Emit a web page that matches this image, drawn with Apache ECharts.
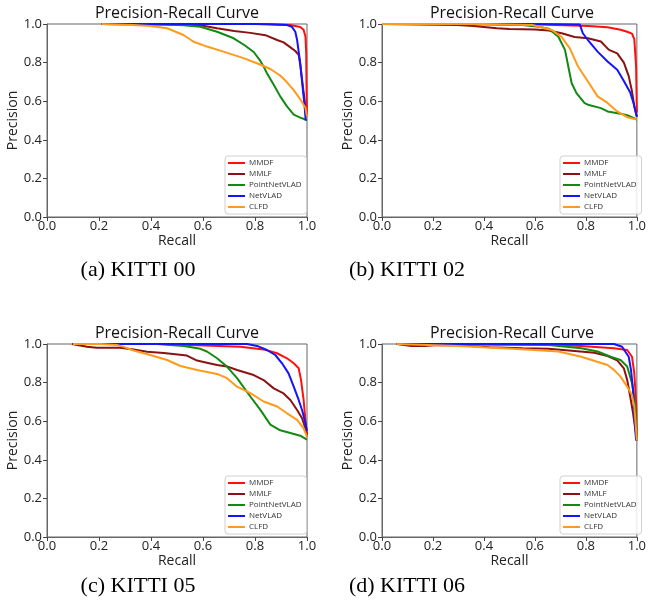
<!DOCTYPE html>
<html>
<head>
<meta charset="utf-8">
<script src="https://cdn.jsdelivr.net/npm/echarts@6/dist/echarts.min.js"></script>
<style>html,body{margin:0;padding:0;background:#fff}#c{width:649px;height:603px}</style>
</head>
<body>
<div id="c"></div>
<script>
// ---- data ----
var methods = ['MMDF', 'MMLF', 'PointNetVLAD', 'NetVLAD', 'CLFD'];
var captions = ['(a) KITTI 00', '(b) KITTI 02', '(c) KITTI 05', '(d) KITTI 06'];
var xTicks = [0, 0.2, 0.4, 0.6, 0.8, 1.0];
var yTicks = [0, 0.2, 0.4, 0.6, 0.8, 1.0];

// KITTI 00  [recall, precision]
var k00_MMDF = [[0.21,1],[0.6,1],[0.85,1],[0.936,0.995],[0.974,0.985],[0.987,0.97],[0.994,0.935],[0.997,0.85],[0.998,0.7],[1.0,0.52]];
var k00_MMLF = [[0.21,1],[0.45,0.998],[0.59,0.993],[0.654,0.978],[0.72,0.964],[0.782,0.954],[0.84,0.942],[0.885,0.917],[0.91,0.905],[0.935,0.88],[0.955,0.86],[0.968,0.84],[0.974,0.79],[0.983,0.69],[0.991,0.6],[0.996,0.52]];
var k00_PointNetVLAD = [[0.21,1],[0.45,0.998],[0.525,0.993],[0.59,0.986],[0.654,0.96],[0.718,0.926],[0.76,0.89],[0.795,0.855],[0.82,0.81],[0.835,0.775],[0.846,0.745],[0.872,0.685],[0.897,0.625],[0.923,0.573],[0.949,0.53],[0.974,0.515],[0.994,0.505],[1.0,0.5]];
var k00_NetVLAD = [[0.21,1],[0.8,1],[0.923,0.995],[0.942,0.985],[0.955,0.96],[0.962,0.917],[0.974,0.797],[0.983,0.676],[0.991,0.573],[0.995,0.5]];
var k00_CLFD = [[0.21,1],[0.333,0.995],[0.397,0.99],[0.462,0.978],[0.525,0.943],[0.564,0.908],[0.615,0.883],[0.679,0.857],[0.756,0.823],[0.82,0.79],[0.859,0.767],[0.897,0.733],[0.923,0.698],[0.949,0.657],[0.974,0.61],[0.994,0.566],[1.0,0.52]];

// KITTI 02
var k02_MMDF = [[0,1],[0.55,1],[0.68,0.995],[0.81,0.99],[0.885,0.983],[0.936,0.97],[0.962,0.96],[0.981,0.95],[0.99,0.92],[0.997,0.78],[1.0,0.54]];
var k02_MMLF = [[0,1],[0.295,0.995],[0.36,0.99],[0.45,0.978],[0.5,0.974],[0.6,0.972],[0.654,0.966],[0.705,0.952],[0.756,0.933],[0.808,0.926],[0.859,0.909],[0.88,0.88],[0.891,0.866],[0.923,0.848],[0.949,0.8],[0.968,0.73],[0.981,0.65],[0.99,0.573],[1.0,0.52]];
var k02_PointNetVLAD = [[0,1],[0.3,1],[0.551,0.995],[0.615,0.986],[0.654,0.976],[0.692,0.934],[0.718,0.866],[0.731,0.78],[0.744,0.694],[0.763,0.642],[0.795,0.59],[0.808,0.582],[0.859,0.564],[0.885,0.547],[0.936,0.535],[0.962,0.527],[1.0,0.505]];
var k02_NetVLAD = [[0,1],[0.6,1],[0.776,0.998],[0.788,0.952],[0.808,0.917],[0.846,0.857],[0.885,0.806],[0.923,0.763],[0.949,0.705],[0.974,0.645],[0.987,0.59],[1.0,0.52]];
var k02_CLFD = [[0,1],[0.4,1],[0.59,0.995],[0.667,0.969],[0.705,0.932],[0.737,0.874],[0.769,0.78],[0.808,0.702],[0.846,0.625],[0.885,0.591],[0.923,0.547],[0.962,0.517],[1.0,0.505]];

// KITTI 05
var k05_MMDF = [[0.1,1],[0.45,1],[0.551,0.995],[0.744,0.986],[0.833,0.972],[0.885,0.952],[0.923,0.926],[0.949,0.9],[0.968,0.874],[0.977,0.814],[0.987,0.71],[0.994,0.607],[1.0,0.52]];
var k05_MMLF = [[0.096,1],[0.154,0.986],[0.192,0.981],[0.282,0.981],[0.333,0.972],[0.385,0.96],[0.449,0.953],[0.538,0.94],[0.577,0.914],[0.615,0.903],[0.654,0.891],[0.692,0.884],[0.731,0.865],[0.795,0.839],[0.833,0.813],[0.872,0.77],[0.91,0.744],[0.936,0.71],[0.962,0.658],[0.981,0.615],[0.994,0.563],[1.0,0.53]];
var k05_PointNetVLAD = [[0.1,1],[0.423,1],[0.526,0.99],[0.59,0.975],[0.615,0.961],[0.654,0.926],[0.692,0.883],[0.731,0.823],[0.782,0.728],[0.82,0.66],[0.859,0.582],[0.897,0.553],[0.936,0.539],[0.974,0.525],[1.0,0.505]];
var k05_NetVLAD = [[0.1,1],[0.769,1],[0.808,0.99],[0.846,0.969],[0.878,0.943],[0.904,0.9],[0.929,0.848],[0.949,0.779],[0.968,0.71],[0.981,0.658],[0.994,0.59],[1.0,0.55]];
var k05_CLFD = [[0.1,1],[0.205,1],[0.269,0.995],[0.295,0.985],[0.333,0.966],[0.397,0.943],[0.462,0.917],[0.513,0.886],[0.577,0.865],[0.654,0.845],[0.692,0.823],[0.731,0.779],[0.782,0.745],[0.833,0.702],[0.885,0.676],[0.923,0.641],[0.962,0.607],[0.987,0.563],[1.0,0.52]];

// KITTI 06
var k06_MMDF = [[0.058,1],[0.654,0.998],[0.782,0.99],[0.91,0.978],[0.962,0.969],[0.981,0.934],[0.99,0.848],[0.998,0.676],[1.0,0.5]];
var k06_MMLF = [[0.058,1],[0.115,0.99],[0.167,0.99],[0.218,0.995],[0.295,0.993],[0.423,0.983],[0.551,0.978],[0.654,0.975],[0.756,0.964],[0.833,0.955],[0.885,0.938],[0.923,0.915],[0.949,0.874],[0.962,0.814],[0.974,0.728],[0.985,0.642],[0.994,0.556],[1.0,0.5]];
var k06_PointNetVLAD = [[0.058,1],[0.654,0.995],[0.782,0.978],[0.846,0.961],[0.897,0.934],[0.936,0.917],[0.962,0.883],[0.981,0.797],[0.987,0.745],[0.994,0.676],[1.0,0.5]];
var k06_NetVLAD = [[0.058,1],[0.91,1],[0.942,0.986],[0.955,0.96],[0.968,0.934],[0.977,0.866],[0.985,0.762],[0.99,0.642],[0.994,0.556],[0.997,0.5]];
var k06_CLFD = [[0.058,1],[0.3,0.99],[0.397,0.983],[0.564,0.972],[0.692,0.961],[0.782,0.934],[0.885,0.891],[0.91,0.866],[0.936,0.831],[0.962,0.779],[0.981,0.736],[0.99,0.676],[1.0,0.5]];

var panels = [
  [k00_MMDF, k00_MMLF, k00_PointNetVLAD, k00_NetVLAD, k00_CLFD],
  [k02_MMDF, k02_MMLF, k02_PointNetVLAD, k02_NetVLAD, k02_CLFD],
  [k05_MMDF, k05_MMLF, k05_PointNetVLAD, k05_NetVLAD, k05_CLFD],
  [k06_MMDF, k06_MMLF, k06_PointNetVLAD, k06_NetVLAD, k06_CLFD]
];

// ---- layout / style ----
var colors = ['#ff1010', '#8b1212', '#128a12', '#1414ff', '#ff9a1a'];
var gridPos = [
  {left: 47, top: 24}, {left: 382, top: 24},
  {left: 47, top: 344}, {left: 382, top: 344}
];
var GW = 260, GH = 193;
var captionPos = [[138, 259], [407, 259], [138, 575], [407, 575]];
var legendPos = [[225, 156], [560, 156], [225, 476], [560, 476]];
var font = 'Open Sans';

var grids = [], xAxes = [], yAxes = [], series = [], titles = [], legends = [];
gridPos.forEach(function (g, i) {
  grids.push({left: g.left, top: g.top, width: GW, height: GH, show: true,
    borderColor: '#666', borderWidth: 1, backgroundColor: '#fff'});
  xAxes.push({type: 'value', gridIndex: i, min: 0, max: 1, interval: 0.2,
    name: 'Recall', nameLocation: 'middle', nameGap: 12,
    nameTextStyle: {fontFamily: font, fontSize: 14, color: '#222'},
    axisLine: {show: true, lineStyle: {color: '#666'}},
    axisTick: {show: true, length: 4, lineStyle: {color: '#444'}},
    axisLabel: {fontFamily: font, fontSize: 13, color: '#222', margin: 3,
      formatter: function (v) { return v.toFixed(1); }},
    splitLine: {show: false}});
  yAxes.push({type: 'value', gridIndex: i, min: 0, max: 1, interval: 0.2,
    name: 'Precision', nameLocation: 'middle', nameGap: 21,
    nameTextStyle: {fontFamily: font, fontSize: 14, color: '#222'},
    axisLine: {show: true, lineStyle: {color: '#666'}},
    axisTick: {show: true, length: 4, lineStyle: {color: '#444'}},
    axisLabel: {fontFamily: font, fontSize: 13, color: '#222', margin: 5,
      formatter: function (v) { return v.toFixed(1); }},
    splitLine: {show: false}});
  titles.push({text: 'Precision-Recall Curve', left: g.left + GW / 2, top: g.top - 19,
    textAlign: 'center', padding: 0,
    textStyle: {fontFamily: font, fontSize: 16, fontWeight: 'normal', color: '#111'}});
  titles.push({text: captions[i], left: captionPos[i][0], top: captionPos[i][1],
    textAlign: 'center', padding: 0,
    textStyle: {fontFamily: 'Liberation Serif', fontSize: 22, fontWeight: 'normal', color: '#000'}});
  var sNames = methods.map(function (m) { return m + ' ' + i; });
  legends.push({data: sNames, orient: 'vertical', left: legendPos[i][0], top: legendPos[i][1],
    itemWidth: 17, itemHeight: 8, itemGap: 3, padding: [3, 5, 3, 3],
    borderColor: '#d0d0d0', borderWidth: 1, borderRadius: 3, backgroundColor: 'rgba(255,255,255,0.85)',
    formatter: function (n) { return n.split(' ')[0]; },
    textStyle: {fontFamily: font, fontSize: 8, color: '#333', padding: [0, 0, 0, -1]},
    icon: 'path://M0,0 L17,0 L17,2 L0,2 Z'});
  panels[i].forEach(function (d, k) {
    series.push({type: 'line', name: methods[k] + ' ' + i, xAxisIndex: i, yAxisIndex: i,
      data: d, showSymbol: false, symbol: 'none', smooth: false, clip: true,
      color: colors[k], lineStyle: {width: 2, color: colors[k]}});
  });
});

var chart = echarts.init(document.getElementById('c'), null, {renderer: 'canvas'});
chart.setOption({
  animation: false,
  backgroundColor: '#fff',
  title: titles,
  legend: legends,
  grid: grids,
  xAxis: xAxes,
  yAxis: yAxes,
  series: series
});
</script>
</body>
</html>
